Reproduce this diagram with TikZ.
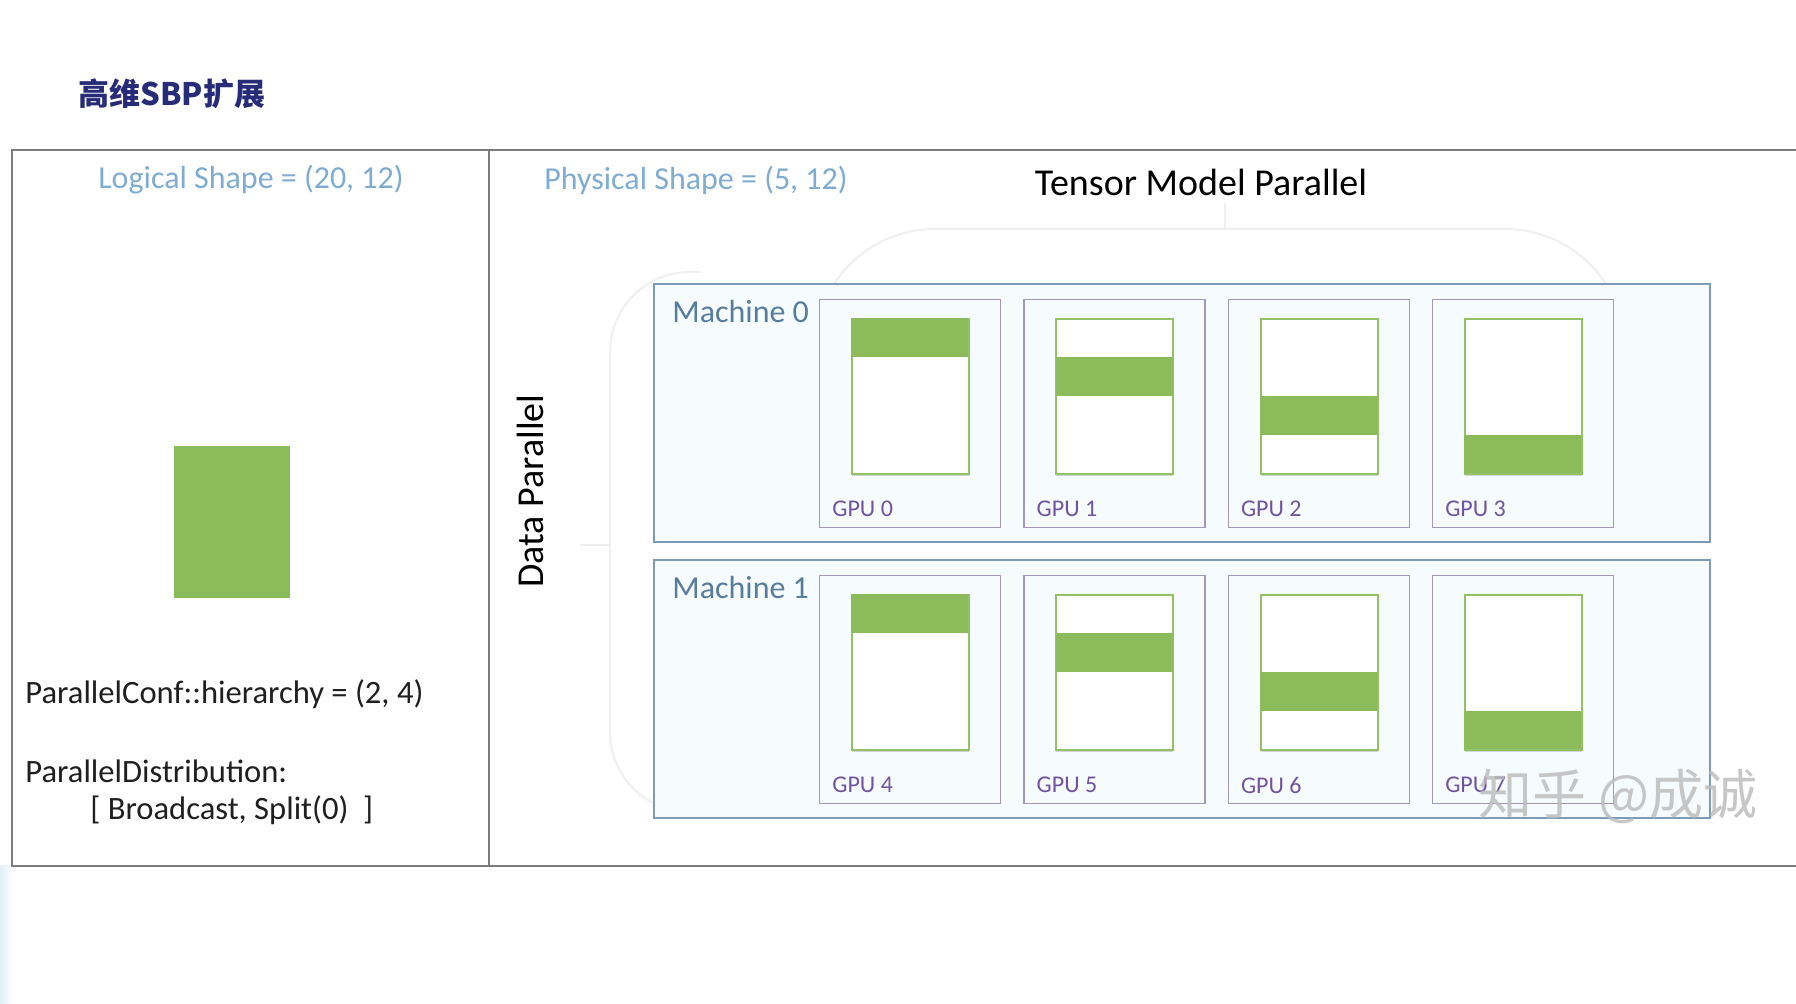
\documentclass[tikz,border=0pt]{standalone}
\usepackage{fontspec}
\setmainfont{Carlito}
\newfontfamily\cjk{Noto Sans CJK SC}
\usetikzlibrary{calc,shadows}
\definecolor{tgreen}{RGB}{139,187,90}
\definecolor{tgreenline}{RGB}{146,194,100}
\definecolor{hdrblue}{RGB}{128,172,210}
\definecolor{machline}{RGB}{125,155,185}
\definecolor{machfill}{RGB}{246,251,254}
\definecolor{machtxt}{RGB}{88,124,158}
\definecolor{gpuline}{RGB}{165,150,190}
\definecolor{gputxt}{RGB}{112,84,160}
\definecolor{navy}{RGB}{40,44,120}
\definecolor{tblline}{RGB}{125,125,125}
\definecolor{bracecol}{RGB}{240,240,240}
\definecolor{edgeblue}{RGB}{226,240,250}
\begin{document}
\begin{tikzpicture}[x=0.5pt,y=-0.5pt,
  cell/.style={draw=tblline, line width=1pt, anchor=north west, inner sep=0pt, outer sep=0pt},
  machbox/.style={draw=machline, fill=machfill, line width=1pt, anchor=north west, inner sep=0pt, minimum width=528pt, minimum height=129pt},
  gpubox/.style={draw=gpuline, fill=machfill, line width=0.7pt, anchor=north west, inner sep=0pt, minimum width=90.5pt, minimum height=114pt},
  tensorbox/.style={draw=tgreenline, fill=white, line width=1pt, anchor=north west, inner sep=0pt, minimum width=58.5pt, minimum height=77.5pt, drop shadow={shadow xshift=0pt, shadow yshift=-1.2pt, opacity=0.15, fill=black}},
  bandbox/.style={fill=tgreen, anchor=north west, inner sep=0pt, minimum width=58.5pt, minimum height=19.4pt},
  hdr/.style={font=\fontsize{16}{18}\selectfont, text=hdrblue, inner sep=0pt},
  bigtxt/.style={font=\fontsize{19}{22}\selectfont, text=black, inner sep=0pt},
  codetxt/.style={font=\fontsize{16.3}{18}\selectfont, text=black!88, inner sep=0pt, anchor=west},
  machtext/.style={font=\fontsize{16}{18}\selectfont, text=machtxt, inner sep=0pt, anchor=west},
  gputext/.style={font=\fontsize{12}{14}\selectfont, text=gputxt, inner sep=0pt, anchor=west},
  bracel/.style={draw=bracecol, line width=1pt}
]
\useasboundingbox (0,0) rectangle (1796,1004);
\fill[white] (0,0) rectangle (1796,1004);
\fill[left color=edgeblue, right color=white] (0,866) rectangle (14,1004);

% title
\node[font=\cjk\bfseries\fontsize{15.5}{17}\selectfont, text=navy, anchor=west, inner sep=0pt] (title) at (78,94) {高维SBP扩展};

% table cells
\node[cell, minimum width=238.5pt, minimum height=358pt] (leftcell) at (12,150) {};
\node[cell, minimum width=656pt, minimum height=358pt] (rightcell) at (489,150) {};

% headers
\node[hdr] (logical) at (251,180) {Logical Shape = (20, 12)};
\node[hdr, anchor=west] (physical) at (544,180) {Physical Shape = (5, 12)};
\node[bigtxt] (tmp) at (1201,182) {Tensor Model Parallel};
\node[bigtxt, rotate=90] (dp) at (530,491) {Data Parallel};

% faint braces
\coordinate (tmpa) at (1225,203);
\coordinate (tmpb) at (1225,229);
\draw[bracel] (tmpa) -- (tmpb);
\draw[bracel, rounded corners=60pt] (815,330) -- (815,229) -- (1625,229) -- (1625,330);
\coordinate (dpa) at (580,545);
\coordinate (dpb) at (610,545);
\draw[bracel] (dpa) -- (dpb);
\draw[bracel, rounded corners=40pt] (700,272) -- (610,272) -- (610,812) -- (700,812);

% logical tensor
\node[fill=tgreen, inner sep=0pt, minimum width=58pt, minimum height=76pt] (logtensor) at (232,522) {};

% code text
\node[codetxt] (conf) at (25,694) {ParallelConf::hierarchy = (2, 4)};
\node[codetxt] (dist) at (25,771) {ParallelDistribution:};
\node[codetxt] (distv) at (90,810) {[ Broadcast, Split(0)\ \ ]};

% machines and GPUs
\foreach \m/\my in {0/283, 1/559} {
  \node[machbox] (mach\m) at (653,\my) {};
  \node[machtext] (machlbl\m) at (672,\my+29) {Machine \m};
  \foreach \i in {0,...,3} {
    \pgfmathtruncatemacro\k{4*\m+\i}
    \pgfmathsetmacro\gx{819+204.3*\i}
    \node[gpubox] (gpu\k) at (\gx,\my+16) {};
    \node[tensorbox] (t\k) at ($(gpu\k.north west)+(32,19)$) {};
    \node[bandbox] (b\k) at ($(t\k.north west)+(0,38.75*\i)$) {};
    \node[gputext] (gl\k) at ($(gpu\k.north west)+(13,210)$) {GPU \k};
  }
}

% watermark
\node[font=\cjk\fontsize{27}{29}\selectfont, text=gray!55, opacity=0.8, anchor=west, inner sep=0pt] (wm) at (1478,796) {知乎 @成诚};
\end{tikzpicture}
\end{document}
